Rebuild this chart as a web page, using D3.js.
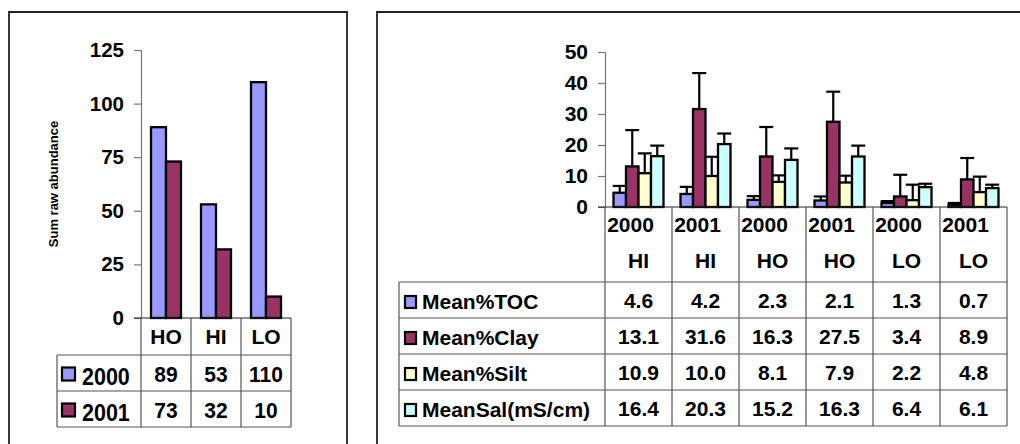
<!DOCTYPE html>
<html>
<head>
<meta charset="utf-8">
<script src="https://cdn.jsdelivr.net/npm/d3@7"></script>
<style>
  html, body { margin: 0; padding: 0; background: #fff; }
  svg text { font-family: "Liberation Sans", Arial, sans-serif; font-weight: bold; fill: #000; }
</style>
</head>
<body>
<svg id="chart" width="1020" height="444"></svg>
<script>
// ---- Left panel: summed raw abundance per habitat and year ----
const abundanceCats = ["HO", "HI", "LO"];
const abundanceYears = ["2000", "2001"];
const abundance2000 = [89, 53, 110];
const abundance2001 = [73, 32, 10];
const abundanceTicks = [0, 25, 50, 75, 100, 125];

// ---- Right panel: sediment / salinity means with SD (upper bars) ----
const siteYears = ["2000", "2001", "2000", "2001", "2000", "2001"];
const siteNames = ["HI", "HI", "HO", "HO", "LO", "LO"];
const seriesNames = ["Mean%TOC", "Mean%Clay", "Mean%Silt", "MeanSal(mS/cm)"];
const meanTOC = [4.6, 4.2, 2.3, 2.1, 1.3, 0.7];
const meanClay = [13.1, 31.6, 16.3, 27.5, 3.4, 8.9];
const meanSilt = [10.9, 10.0, 8.1, 7.9, 2.2, 4.8];
const meanSal = [16.4, 20.3, 15.2, 16.3, 6.4, 6.1];
const sdTOC = [2.2, 2.3, 1.2, 1.3, 0.6, 0.6];
const sdClay = [11.7, 11.6, 9.5, 9.7, 7.0, 6.9];
const sdSilt = [6.4, 6.2, 2.1, 2.2, 5.0, 5.0];
const sdSal = [3.4, 3.4, 3.7, 3.5, 1.1, 1.1];
const envTicks = [0, 10, 20, 30, 40, 50];

const svg = d3.select("#chart");
const GRID = "#555";
const AXIS = "#777";
const BAR_STROKE = 2.3;

// panel frames (the lower edge runs off the page)
svg.append("path").attr("d", "M9,460 V12 H347 V460")
  .attr("fill", "none").attr("stroke", "#222").attr("stroke-width", 1.8);
svg.append("path").attr("d", "M377,460 V12 H1030")
  .attr("fill", "none").attr("stroke", "#222").attr("stroke-width", 1.8);

// ================= LEFT CHART =================
(function () {
  const yearColors = ["#9999FF", "#993366"];
  const values = [abundance2000, abundance2001];
  const x0 = d3.scaleBand().domain(abundanceCats).range([141, 291]);
  const x1 = d3.scaleBand().domain(abundanceYears).range([0, x0.bandwidth()])
    .paddingInner(0).paddingOuter(0.667);
  const y = d3.scaleLinear().domain([0, 125]).range([318, 50]);

  const g = svg.append("g");
  const axis = g.append("g").attr("transform", "translate(141,0)")
    .call(d3.axisLeft(y).tickValues(abundanceTicks).tickSize(7).tickPadding(10));
  axis.select(".domain").attr("stroke", AXIS).attr("stroke-width", 1.2);
  axis.selectAll(".tick line").attr("stroke", AXIS).attr("stroke-width", 1.2);
  axis.selectAll(".tick text").style("font-size", "20.5px").attr("font-family", null);

  g.append("text").attr("transform", "translate(58,184) rotate(-90)")
    .attr("text-anchor", "middle").style("font-size", "13px").text("Sum raw abundance");

  abundanceYears.forEach((yr, si) => {
    g.append("g").selectAll("rect").data(abundanceCats).join("rect")
      .attr("x", (c) => x0(c) + x1(yr))
      .attr("width", x1.bandwidth())
      .attr("y", (c, i) => y(values[si][i]))
      .attr("height", (c, i) => y(0) - y(values[si][i]))
      .attr("fill", yearColors[si]).attr("stroke", "#000").attr("stroke-width", BAR_STROKE);
  });

  // data table
  const rowTop = 318, headH = 37, rowH = 36, tableLeft = 57;
  const right = x0.range()[1];
  const bottom = rowTop + headH + rowH * 2;
  g.append("line").attr("x1", 134).attr("x2", right).attr("y1", rowTop).attr("y2", rowTop)
    .attr("stroke", "#222").attr("stroke-width", 1.2);
  [rowTop + headH, rowTop + headH + rowH, bottom].forEach((yy) => {
    g.append("line").attr("x1", tableLeft).attr("x2", right).attr("y1", yy).attr("y2", yy)
      .attr("stroke", GRID).attr("stroke-width", 1.2);
  });
  g.append("line").attr("x1", tableLeft).attr("x2", tableLeft)
    .attr("y1", rowTop + headH).attr("y2", bottom).attr("stroke", GRID).attr("stroke-width", 1.2);
  abundanceCats.concat([null]).forEach((c, i) => {
    const xx = i < abundanceCats.length ? x0(c) : right;
    g.append("line").attr("x1", xx).attr("x2", xx).attr("y1", rowTop).attr("y2", bottom)
      .attr("stroke", GRID).attr("stroke-width", 1.2);
  });
  abundanceCats.forEach((c) => {
    g.append("text").attr("x", x0(c) + x0.bandwidth() / 2).attr("y", rowTop + 26)
      .attr("text-anchor", "middle").style("font-size", "21px").text(c);
  });
  abundanceYears.forEach((yr, si) => {
    const cy = rowTop + headH + rowH * si + rowH / 2;
    g.append("rect").attr("x", 62).attr("y", cy - 5.5).attr("width", 13).attr("height", 13)
      .attr("fill", yearColors[si]).attr("stroke", "#000").attr("stroke-width", 2.2);
    g.append("text").attr("x", 82).attr("y", cy + 10.5).style("font-size", "21.5px")
      .attr("transform", `translate(0,${cy}) scale(1,1.1) translate(0,${-cy})`).text(yr);
    abundanceCats.forEach((c, i) => {
      g.append("text").attr("x", x0(c) + x0.bandwidth() / 2).attr("y", cy + 8.5)
        .attr("text-anchor", "middle").style("font-size", "21px")
        .attr("transform", `translate(0,${cy}) scale(1,1.08) translate(0,${-cy})`)
        .text(values[si][i]);
    });
  });
})();

// ================= RIGHT CHART =================
(function () {
  const colors = ["#9999FF", "#993366", "#FFFFCC", "#CCFFFF"];
  const means = [meanTOC, meanClay, meanSilt, meanSal];
  const sds = [sdTOC, sdClay, sdSilt, sdSal];
  const cols = siteYears.map((yr, i) => i);
  const x0 = d3.scaleBand().domain(cols).range([605, 1007]);
  const x1 = d3.scaleBand().domain(seriesNames).range([0, x0.bandwidth()])
    .paddingInner(0).paddingOuter(0.68);
  const y = d3.scaleLinear().domain([0, 50]).range([207, 52]);

  const g = svg.append("g");
  const axis = g.append("g").attr("transform", "translate(605,0)")
    .call(d3.axisLeft(y).tickValues(envTicks).tickSize(7).tickPadding(10));
  axis.select(".domain").attr("stroke", AXIS).attr("stroke-width", 1.2);
  axis.selectAll(".tick line").attr("stroke", AXIS).attr("stroke-width", 1.2);
  axis.selectAll(".tick text").style("font-size", "21px").attr("font-family", null);

  seriesNames.forEach((s, si) => {
    const sg = g.append("g");
    sg.selectAll("rect").data(cols).join("rect")
      .attr("x", (c) => x0(c) + x1(s))
      .attr("width", x1.bandwidth())
      .attr("y", (c) => y(means[si][c]))
      .attr("height", (c) => y(0) - y(means[si][c]))
      .attr("fill", colors[si]).attr("stroke", "#000").attr("stroke-width", BAR_STROKE);
  });
  // upper error bars
  seriesNames.forEach((s, si) => {
    const eg = g.append("g").attr("stroke", "#000").attr("stroke-width", 2.2);
    cols.forEach((c) => {
      const cx = x0(c) + x1(s) + x1.bandwidth() / 2;
      const top = y(means[si][c] + sds[si][c]);
      eg.append("line").attr("x1", cx).attr("x2", cx).attr("y1", y(means[si][c])).attr("y2", top);
      eg.append("line").attr("x1", cx - 7).attr("x2", cx + 7).attr("y1", top).attr("y2", top);
    });
  });

  // data table
  const rowTop = 207, headH = 75, rowH = 36, tableLeft = 399;
  const right = x0.range()[1];
  const bottom = rowTop + headH + rowH * seriesNames.length;
  g.append("line").attr("x1", 598).attr("x2", right).attr("y1", rowTop).attr("y2", rowTop)
    .attr("stroke", "#222").attr("stroke-width", 1.2);
  for (let r = 0; r <= seriesNames.length; r++) {
    const yy = rowTop + headH + rowH * r;
    g.append("line").attr("x1", tableLeft).attr("x2", right).attr("y1", yy).attr("y2", yy)
      .attr("stroke", GRID).attr("stroke-width", 1.2);
  }
  g.append("line").attr("x1", tableLeft).attr("x2", tableLeft)
    .attr("y1", rowTop + headH).attr("y2", bottom).attr("stroke", GRID).attr("stroke-width", 1.2);
  cols.concat([null]).forEach((c) => {
    const xx = c === null ? right : x0(c);
    g.append("line").attr("x1", xx).attr("x2", xx).attr("y1", rowTop).attr("y2", bottom)
      .attr("stroke", GRID).attr("stroke-width", 1.2);
  });
  cols.forEach((c) => {
    const cx = x0(c) + x0.bandwidth() / 2;
    g.append("text").attr("x", cx - 8).attr("y", rowTop + 25).attr("text-anchor", "middle")
      .style("font-size", "21px").text(siteYears[c]);
    g.append("text").attr("x", cx).attr("y", rowTop + 61).attr("text-anchor", "middle")
      .style("font-size", "21px").text(siteNames[c]);
  });
  seriesNames.forEach((s, si) => {
    const cy = rowTop + headH + rowH * si + rowH / 2;
    g.append("rect").attr("x", 405).attr("y", cy - 4).attr("width", 11).attr("height", 12)
      .attr("fill", colors[si]).attr("stroke", "#000").attr("stroke-width", 2.2);
    g.append("text").attr("x", 422).attr("y", cy + 9).style("font-size", "21px").text(s);
    cols.forEach((c) => {
      g.append("text").attr("x", x0(c) + x0.bandwidth() / 2).attr("y", cy + 8)
        .attr("text-anchor", "middle").style("font-size", "21px")
        .text(d3.format(".1f")(means[si][c]));
    });
  });
})();
</script>
</body>
</html>
